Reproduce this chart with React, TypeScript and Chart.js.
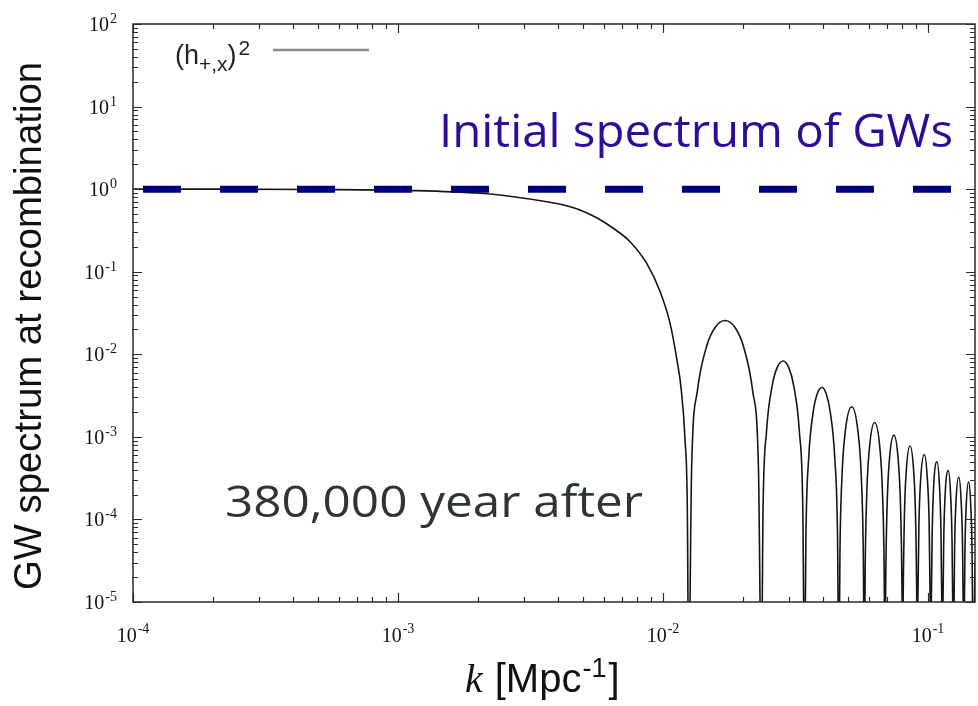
import { useEffect, useRef } from "react";
import { Chart, registerables } from "chart.js";

Chart.register(...registerables);

// ---------- data ----------
const kMpc: number[] = [
  // flat part and first decline
  1.0e-4, 2.0e-4, 5.0e-4, 1.14e-3, 2.04e-3, 2.72e-3, 3.64e-3, 4.21e-3, 4.86e-3, 5.62e-3, 6.49e-3, 7.51e-3, 8.68e-3,
  9.74e-3, 1.062e-2, 1.127e-2, 1.17e-2, 1.211e-2, 1.235e-2, 0.0125,
  // lobe 1
  0.01282, 0.01348, 0.01464, 0.01579, 0.01714, 0.01861, 0.02007, 0.02179, 0.02292, 0.0235,
  // lobe 2
  0.02385, 0.02458, 0.02581, 0.027, 0.02844, 0.02977, 0.03114, 0.03269, 0.03369, 0.0342,
  // lobe 3
  0.03461, 0.03545, 0.03685, 0.03819, 0.03981, 0.04128, 0.04278, 0.04448, 0.04555, 0.0461,
  // lobe 4
  0.04651, 0.04734, 0.04872, 0.05154, 0.05441, 0.056, 0.05699, 0.0575,
  // lobe 5
  0.05791, 0.05875, 0.06014, 0.0629, 0.06578, 0.06733, 0.06831, 0.0688,
  // lobe 6
  0.06922, 0.07008, 0.07149, 0.0743, 0.07718, 0.07874, 0.07971, 0.0802,
  // lobe 7
  0.08061, 0.08144, 0.0828, 0.0855, 0.08825, 0.08972, 0.09064, 0.0911,
  // lobe 8
  0.09153, 0.09239, 0.0938, 0.0968, 0.09945, 0.101, 0.1019, 0.1024,
  // lobe 9
  0.1028, 0.1037, 0.105, 0.108, 0.1105, 0.1119, 0.1128, 0.1133,
  // lobe 10
  0.1137, 0.1146, 0.116, 0.1192, 0.1217, 0.1232, 0.1241, 0.1246,
  // lobe 11
  0.1251, 0.126, 0.1275, 0.1306, 0.1334, 0.135, 0.136, 0.1365,
  // lobe 12
  0.1369, 0.1378, 0.1393, 0.1423, 0.145, 0.1466, 0.1475, 0.148,
  // edge
  0.1504,
];

const gwSpectrum: number[] = [
  1.0, 1.0, 0.99, 0.96, 0.89, 0.81, 0.705, 0.643, 0.56, 0.45, 0.336, 0.231, 0.126,
  0.058, 0.024, 8.8e-3, 3.9e-3, 9.2e-4, 1.4e-4, 1e-6,
  4.1e-4, 3.6e-3, 0.0128, 0.0216, 0.0257, 0.0216, 0.0128, 3.6e-3, 4.1e-4, 1e-6,
  1.33e-4, 1.16e-3, 4.15e-3, 7.0e-3, 8.3e-3, 7.0e-3, 4.15e-3, 1.16e-3, 1.33e-4, 1e-6,
  6.3e-5, 5.5e-4, 1.98e-3, 3.33e-3, 3.96e-3, 3.33e-3, 1.98e-3, 5.5e-4, 6.3e-5, 1e-6,
  3.7e-5, 3.25e-4, 1.16e-3, 2.32e-3, 1.16e-3, 3.25e-4, 3.7e-5, 1e-6,
  2.4e-5, 2.09e-4, 7.45e-4, 1.49e-3, 7.45e-4, 2.09e-4, 2.4e-5, 1e-6,
  1.7e-5, 1.47e-4, 5.25e-4, 1.05e-3, 5.25e-4, 1.47e-4, 1.7e-5, 1e-6,
  1.24e-5, 1.09e-4, 3.9e-4, 7.75e-4, 3.9e-4, 1.09e-4, 1.24e-5, 1e-6,
  9.8e-6, 8.6e-5, 3.05e-4, 6.11e-4, 3.05e-4, 8.6e-5, 9.8e-6, 1e-6,
  8e-6, 7e-5, 2.5e-4, 5.0e-4, 2.5e-4, 7e-5, 8e-6, 1e-6,
  6.3e-6, 5.5e-5, 1.96e-4, 3.91e-4, 1.96e-4, 5.5e-5, 6.3e-6, 1e-6,
  5.2e-6, 4.6e-5, 1.63e-4, 3.26e-4, 1.63e-4, 4.6e-5, 5.2e-6, 1e-6,
  4.6e-6, 4.0e-5, 1.43e-4, 2.86e-4, 1.43e-4, 4.0e-5, 4.6e-6, 1e-6,
  3e-5,
];

const initialSpectrum = 1;
const xTickExponents = [-4, -3, -2, -1];
const yTickExponents = [-5, -4, -3, -2, -1, 0, 1, 2];
const xMin = 1e-4;
const xMax = 0.1504;
const yMin = 1e-5;
const yMax = 1e2;

const yAxisTitle = "GW spectrum at recombination";
const legendLabel = { base: "(h", sub: "+,x", close: ")", sup: "2" };
const annotationTop = "Initial spectrum of GWs";
const annotationBottom = "380,000 year after";

// ---------- drawing helpers ----------
const SANS = "'Liberation Sans', Arial, sans-serif";
const SERIF = "'Liberation Serif', 'Times New Roman', serif";

function fitText(
  ctx: CanvasRenderingContext2D,
  text: string,
  x: number,
  y: number,
  width: number,
  font: string,
  color: string
) {
  ctx.save();
  ctx.font = font;
  const w = ctx.measureText(text).width;
  const s = width / w;
  ctx.translate(x, y);
  ctx.scale(s, 1);
  ctx.fillStyle = color;
  ctx.textAlign = "left";
  ctx.textBaseline = "alphabetic";
  ctx.fillText(text, 0, 0);
  ctx.restore();
}

function drawPow(
  ctx: CanvasRenderingContext2D,
  x: number,
  baseline: number,
  exp: number,
  align: "center" | "right",
  raise: number
) {
  const base = "10";
  const ex = exp < 0 ? "-" + Math.abs(exp) : String(exp);
  ctx.font = `20px ${SERIF}`;
  const wb = ctx.measureText(base).width;
  ctx.font = `14px ${SERIF}`;
  const we = ctx.measureText(ex).width;
  const total = wb + 1 + we;
  const start = align === "center" ? x - total / 2 : x - total;
  ctx.textAlign = "left";
  ctx.textBaseline = "alphabetic";
  ctx.font = `20px ${SERIF}`;
  ctx.fillText(base, start, baseline);
  ctx.font = `14px ${SERIF}`;
  ctx.fillText(ex, start + wb + 1, baseline - raise);
}

const decorPlugin = {
  id: "gnuplotDecor",
  afterDraw(chart: any) {
    const { ctx, chartArea: a, scales } = chart;
    const xs = scales.x;
    const ys = scales.y;
    ctx.save();

    // frame
    ctx.strokeStyle = "#2a2a2a";
    ctx.lineWidth = 1.5;
    ctx.strokeRect(a.left, a.top, a.right - a.left, a.bottom - a.top);

    // ticks (inward, mirrored)
    ctx.lineWidth = 1.2;
    ctx.beginPath();
    for (let e = -4; e <= -1; e++) {
      for (let d = 1; d <= 9; d++) {
        const v = d * Math.pow(10, e);
        if (v < xMin * 0.999 || v > xMax) continue;
        const px = Math.round(xs.getPixelForValue(v)) + 0.5;
        const len = d === 1 ? 9 : 5;
        ctx.moveTo(px, a.bottom);
        ctx.lineTo(px, a.bottom - len);
        ctx.moveTo(px, a.top);
        ctx.lineTo(px, a.top + len);
      }
    }
    for (let e = -5; e <= 2; e++) {
      for (let d = 1; d <= 9; d++) {
        const v = d * Math.pow(10, e);
        if (v < yMin * 0.999 || v > yMax * 1.001) continue;
        const py = Math.round(ys.getPixelForValue(v)) + 0.5;
        const len = d === 1 ? 9 : 5;
        ctx.moveTo(a.left, py);
        ctx.lineTo(a.left + len, py);
        ctx.moveTo(a.right, py);
        ctx.lineTo(a.right - len, py);
      }
    }
    ctx.stroke();

    // tick labels
    ctx.fillStyle = "#111";
    for (const e of xTickExponents) {
      const px = xs.getPixelForValue(Math.pow(10, e));
      drawPow(ctx, px, 642, e, "center", 9);
    }
    for (const e of yTickExponents) {
      const py = ys.getPixelForValue(Math.pow(10, e));
      drawPow(ctx, 117, py + 7, e, "right", 8);
    }

    // y axis title
    ctx.save();
    ctx.font = `38px ${SANS}`;
    const tw = ctx.measureText(yAxisTitle).width;
    ctx.translate(41, 326);
    ctx.rotate(-Math.PI / 2);
    ctx.scale(528 / tw, 1);
    ctx.fillStyle = "#111";
    ctx.textAlign = "center";
    ctx.textBaseline = "alphabetic";
    ctx.fillText(yAxisTitle, 0, 0);
    ctx.restore();

    // x axis title: k [Mpc^-1]
    {
      let x = 465;
      const base = 692;
      ctx.fillStyle = "#111";
      ctx.textAlign = "left";
      ctx.font = `italic 40px ${SERIF}`;
      ctx.fillText("k", x, base);
      x += ctx.measureText("k").width + 12;
      ctx.font = `40px ${SANS}`;
      ctx.fillText("[Mpc", x, base);
      x += ctx.measureText("[Mpc").width + 1;
      ctx.font = `27px ${SANS}`;
      ctx.fillText("-1", x, base - 15);
      x += ctx.measureText("-1").width + 2;
      ctx.font = `40px ${SANS}`;
      ctx.fillText("]", x, base);
    }

    // legend
    {
      let x = 175;
      const base = 64;
      ctx.fillStyle = "#222";
      ctx.textAlign = "left";
      ctx.font = `27px ${SANS}`;
      ctx.fillText(legendLabel.base, x, base);
      x += ctx.measureText(legendLabel.base).width;
      ctx.font = `21px ${SANS}`;
      ctx.fillText(legendLabel.sub, x, base + 7);
      x += ctx.measureText(legendLabel.sub).width;
      ctx.font = `27px ${SANS}`;
      ctx.fillText(legendLabel.close, x, base);
      x += ctx.measureText(legendLabel.close).width + 2;
      ctx.font = `21px ${SANS}`;
      ctx.fillText(legendLabel.sup, x, base - 9);
      ctx.strokeStyle = "#8a8a8a";
      ctx.lineWidth = 2.5;
      ctx.beginPath();
      ctx.moveTo(273, 50);
      ctx.lineTo(369, 50);
      ctx.stroke();
    }

    // annotations
    fitText(ctx, annotationTop, 439, 147, 514, `46px 'Open Sans', sans-serif`, "#2d0c9a");
    fitText(ctx, annotationBottom, 225, 517, 418, `44px 'Open Sans', sans-serif`, "#2f3437");

    ctx.restore();
  },
};

export default function App() {
  const ref = useRef<HTMLCanvasElement>(null);

  useEffect(() => {
    const canvas = ref.current;
    if (!canvas) return;
    const chart = new Chart(canvas, {
      type: "line",
      data: {
        datasets: [
          {
            label: "Initial spectrum of GWs",
            data: [
              { x: xMin, y: initialSpectrum },
              { x: xMax, y: initialSpectrum },
            ],
            borderColor: "#00007f",
            borderWidth: 7,
            borderDash: [38, 39],
            borderDashOffset: 67,
            borderCapStyle: "butt",
            pointRadius: 0,
            fill: false,
          },
          {
            label: "(h+,x)^2",
            data: kMpc.map((k, i) => ({ x: k, y: gwSpectrum[i] })),
            borderColor: "#161616",
            borderWidth: 1.6,
            pointRadius: 0,
            fill: false,
            cubicInterpolationMode: "monotone",
          },
        ],
      },
      options: {
        animation: false,
        responsive: false,
        devicePixelRatio: 1,
        events: [],
        layout: { padding: { left: 133, top: 24, right: 3, bottom: 104 } },
        plugins: { legend: { display: false }, tooltip: { enabled: false } },
        scales: {
          x: { type: "logarithmic", min: xMin, max: xMax, display: false },
          y: { type: "logarithmic", min: yMin, max: yMax, display: false },
        },
      },
      plugins: [decorPlugin],
    } as any);
    return () => chart.destroy();
  }, []);

  return (
    <div
      style={{
        position: "fixed",
        left: 0,
        top: 0,
        width: 978,
        height: 706,
        background: "#ffffff",
      }}
    >
      <canvas ref={ref} width={978} height={706} style={{ display: "block", width: 978, height: 706 }} />
    </div>
  );
}
